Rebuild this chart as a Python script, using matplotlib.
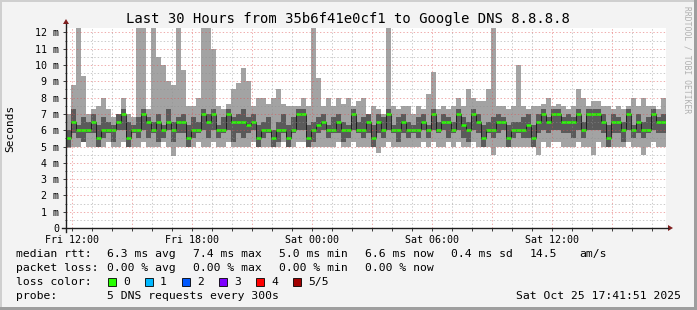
import matplotlib
matplotlib.use("Agg")
import matplotlib.pyplot as plt
from matplotlib.lines import Line2D
from matplotlib.patches import Rectangle, Polygon
import numpy as np

plt.rcParams['font.family'] = ['DejaVu Sans Mono']
plt.rcParams['lines.scale_dashes'] = False

W, H = 697, 310

# 5 pings per step, 15 minute bins over 30 hours (sorted: lo, q1, median, q3, hi), in ms
med = [5.5, 6.5, 6.0, 6.0, 6.0, 6.5, 5.5, 6.0, 6.0, 6.0, 6.5, 7.0, 5.5, 6.0, 6.0,
       7.0, 6.5, 6.0, 6.5, 6.0, 6.5, 6.0, 6.5, 6.5, 5.5, 6.0, 6.0, 7.0, 6.5, 7.0,
       6.0, 6.0, 7.0, 6.5, 6.5, 6.5, 6.3, 6.5, 5.5, 6.0, 6.0, 5.5, 6.0, 6.0, 5.5,
       6.0, 7.0, 7.0, 5.5, 6.0, 6.3, 6.5, 6.0, 6.0, 6.5, 6.0, 6.0, 7.0, 6.0, 6.0,
       6.5, 5.5, 6.5, 6.0, 7.0, 6.0, 6.0, 6.5, 6.0, 6.0, 6.0, 6.5, 6.0, 7.0, 6.0,
       6.5, 6.5, 6.0, 7.0, 6.3, 6.0, 7.0, 6.5, 5.5, 6.0, 6.0, 6.5, 6.5, 5.5, 6.0,
       6.0, 6.0, 6.3, 5.5, 6.5, 7.0, 6.5, 7.0, 7.0, 6.5, 6.5, 6.5, 7.0, 6.0, 7.0,
       7.0, 7.0, 6.5, 5.5, 6.5, 6.5, 6.0, 7.0, 6.0, 6.5, 6.0, 6.0, 7.0, 6.5, 6.5]

q1 = [5.0, 5.8, 5.5, 5.3, 5.8, 5.8, 5.0, 5.5, 5.8, 5.3, 6.0, 6.0, 5.0, 5.8, 5.5,
      6.0, 5.5, 5.8, 5.3, 5.5, 6.0, 5.3, 5.8, 5.8, 5.0, 5.5, 5.8, 6.0, 5.5, 6.0,
      5.5, 5.8, 6.0, 5.3, 5.8, 5.5, 5.8, 6.0, 5.0, 5.5, 5.8, 5.0, 5.3, 5.8, 5.0,
      5.8, 6.0, 6.0, 5.0, 5.3, 5.8, 6.0, 5.5, 5.8, 5.8, 5.3, 5.5, 6.0, 5.8, 5.5,
      5.8, 5.0, 5.8, 5.5, 6.0, 5.8, 5.3, 5.8, 5.5, 5.8, 5.5, 6.0, 5.5, 6.0, 5.8,
      6.0, 5.5, 5.8, 6.0, 5.5, 5.3, 6.0, 5.8, 5.0, 5.8, 5.5, 5.8, 6.0, 5.0, 5.5,
      5.8, 5.5, 5.5, 5.0, 5.8, 6.0, 5.8, 6.0, 6.0, 5.8, 5.8, 5.5, 6.0, 5.5, 6.0,
      6.0, 6.0, 5.8, 5.0, 5.8, 5.8, 5.3, 6.0, 5.5, 5.8, 5.5, 5.8, 6.0, 5.8, 5.8]

q3 = [6.0, 7.3, 6.3, 6.8, 6.5, 7.0, 6.3, 6.8, 6.5, 6.3, 7.0, 7.3, 6.5, 6.3, 6.8,
      7.3, 6.8, 6.5, 7.0, 6.3, 7.3, 6.5, 6.8, 7.0, 6.3, 6.8, 6.5, 7.3, 7.0, 7.3,
      6.3, 6.8, 7.3, 6.8, 7.0, 7.3, 6.8, 7.0, 6.3, 6.5, 6.8, 6.0, 6.5, 7.0, 6.3,
      6.8, 7.3, 7.3, 6.3, 6.5, 6.8, 7.0, 6.3, 6.8, 7.0, 6.5, 6.3, 7.3, 6.5, 6.8,
      7.0, 6.3, 7.0, 6.8, 7.3, 6.3, 6.8, 7.0, 6.5, 6.3, 6.8, 7.0, 6.3, 7.3, 6.5,
      7.0, 6.8, 6.5, 7.3, 6.8, 6.5, 7.3, 7.0, 6.3, 6.5, 6.8, 7.0, 6.8, 6.3, 6.5,
      6.5, 6.8, 7.0, 6.3, 7.0, 7.3, 6.8, 7.3, 7.3, 6.8, 7.0, 6.8, 7.3, 6.5, 7.3,
      7.3, 7.3, 7.0, 6.3, 7.0, 6.8, 6.5, 7.3, 6.3, 7.0, 6.5, 6.8, 7.3, 6.8, 7.0]

lo = [4.9, 5.0, 5.0, 5.3, 5.0, 5.0, 5.0, 5.0, 5.3, 5.0, 5.0, 5.3, 5.0, 5.0, 5.0,
      5.3, 5.0, 5.0, 5.0, 5.3, 5.0, 4.4, 5.0, 5.0, 5.0, 5.0, 5.3, 5.0, 5.0, 5.3,
      5.0, 5.0, 5.3, 5.0, 5.0, 5.0, 5.0, 5.3, 5.0, 5.0, 5.0, 5.0, 5.0, 5.3, 5.0,
      5.0, 5.3, 5.3, 5.0, 5.0, 5.0, 5.0, 5.0, 5.0, 5.3, 5.0, 5.0, 5.3, 5.0, 5.0,
      5.0, 5.0, 4.6, 5.0, 5.3, 5.0, 5.0, 5.0, 5.0, 5.0, 5.0, 5.3, 5.0, 5.3, 5.0,
      5.0, 5.3, 5.0, 5.3, 5.0, 5.0, 5.3, 5.0, 5.0, 5.0, 4.5, 5.0, 5.0, 5.0, 5.0,
      5.0, 5.0, 5.0, 5.0, 4.5, 5.3, 5.0, 5.3, 5.3, 5.0, 5.0, 5.0, 5.3, 5.0, 5.0,
      4.5, 5.3, 5.0, 5.0, 5.0, 5.0, 5.0, 5.3, 5.0, 5.0, 4.5, 5.0, 5.3, 5.0, 5.0]

hi = [7.0, 8.8, 12.5, 9.3, 7.0, 7.3, 7.5, 8.0, 7.3, 6.8, 7.0, 8.0, 7.0, 6.8, 12.5,
      12.5, 7.3, 12.5, 10.5, 10.0, 9.0, 8.8, 12.5, 9.7, 7.5, 7.5, 8.0, 12.5, 12.5, 11.0,
      7.5, 7.3, 7.6, 8.5, 8.9, 9.8, 9.0, 7.5, 8.0, 8.0, 7.6, 8.0, 8.5, 7.6, 7.5,
      7.5, 7.5, 8.0, 7.5, 12.5, 9.2, 7.5, 8.0, 7.5, 8.0, 7.6, 8.0, 7.5, 7.8, 8.0,
      7.0, 7.5, 7.3, 7.0, 12.5, 7.5, 7.3, 7.5, 7.5, 7.0, 7.5, 7.3, 8.2, 9.6, 7.3,
      7.5, 7.3, 7.5, 8.0, 7.5, 8.5, 8.0, 7.8, 7.8, 8.5, 12.5, 7.5, 7.5, 7.3, 7.5,
      10.0, 7.5, 7.3, 7.5, 7.5, 7.6, 8.0, 7.5, 7.6, 7.5, 7.3, 7.5, 8.5, 8.0, 7.5,
      7.8, 7.8, 7.5, 7.5, 7.3, 7.5, 7.3, 7.5, 8.0, 7.5, 8.0, 7.5, 7.5, 7.3, 8.0]

x_labels = ["Fri 12:00", "Fri 18:00", "Sat 00:00", "Sat 06:00", "Sat 12:00"]
y_labels = ["0", "1 m", "2 m", "3 m", "4 m", "5 m", "6 m", "7 m", "8 m",
            "9 m", "10 m", "11 m", "12 m"]

loss_labels = ["0", "1", "2", "3", "4", "5/5"]
loss_colors = ["#26ff00", "#00b8ff", "#0059ff", "#7e00ff", "#ff0000", "#a10000"]

title = "Last 30 Hours from 35b6f41e0cf1 to Google DNS 8.8.8.8"


def fx(x):
    return x / W


def fy(y):
    return 1 - y / H


fig = plt.figure(figsize=(W / 100, H / 100), dpi=100)
fig.patch.set_facecolor('#f3f3f3')

# 3d-ish border
fig.patches.append(Rectangle((0, fy(2)), 1, 2 / H, transform=fig.transFigure, color='#cfcfcf', lw=0))
fig.patches.append(Rectangle((0, 0), 2 / W, 1, transform=fig.transFigure, color='#cfcfcf', lw=0))
fig.patches.append(Rectangle((0, 0), 1, 3 / H, transform=fig.transFigure, color='#9e9e9e', lw=0))
fig.patches.append(Rectangle((fx(W - 3), 0), 3 / W, 1, transform=fig.transFigure, color='#9e9e9e', lw=0))

ax = fig.add_axes([fx(66), fy(228), 600 / W, 200 / H])
ax.set_facecolor('white')
ax.set_xlim(0, 30)
ax.set_ylim(0, 12.27)
for s in ax.spines.values():
    s.set_visible(False)

edges = np.arange(len(med) + 1) * 0.25


def stepv(v):
    return np.append(v, v[-1])


ax.fill_between(edges, stepv(lo), stepv(hi), step='post', color='#a3a3a3', lw=0, zorder=2)
ax.fill_between(edges, stepv(q1), stepv(q3), step='post', color='#5a5a5a', lw=0, zorder=3)
ax.step(edges, stepv(med), where='post', color='#151515', lw=0.6, zorder=4)
ax.hlines(med, edges[:-1], edges[1:], color='#26ff00', lw=1.8, zorder=5)

# grid (first tick Fri 12:00 is 18 min after start)
t0 = 0.303
for k in range(30):
    xv = t0 + k
    if xv > 30:
        break
    if k % 3 == 0:
        ax.axvline(xv, color=(0.87, 0.31, 0.31, 0.55), lw=0.6, ls=(0, (1, 1.5)), zorder=6)
    else:
        ax.axvline(xv, color=(0.56, 0.56, 0.56, 0.55), lw=0.6, ls=(0, (1, 1.5)), zorder=6)
for k in range(1, 25):
    yv = k * 0.5
    if k % 2 == 0:
        ax.axhline(yv, color=(0.87, 0.31, 0.31, 0.55), lw=0.6, ls=(0, (1, 1.5)), zorder=6)
    else:
        ax.axhline(yv, color=(0.56, 0.56, 0.56, 0.55), lw=0.6, ls=(0, (1, 1.5)), zorder=6)

ax.set_xticks([t0 + 6 * i for i in range(len(x_labels))])
ax.set_xticklabels(x_labels)
ax.set_xticks([t0 + k for k in range(30)], minor=True)
ax.set_yticks(range(len(y_labels)))
ax.set_yticklabels(y_labels)
ax.set_yticks([k * 0.5 for k in range(25)], minor=True)
ax.tick_params(which='both', length=2, width=0.6, color='#1f1f1f', labelsize=7.2, pad=3)
ax.tick_params(axis='y', which='minor', length=1)
ax.tick_params(axis='x', which='minor', length=2)
fig.text(fx(10), fy(128), "Seconds", rotation=90, ha='center', va='center', fontsize=8)

# axes with arrows
axis_col = '#1f1f1f'
arrow_col = '#801f1f'
fig.add_artist(Line2D([fx(62), fx(668)], [fy(228), fy(228)], color=axis_col, lw=1.0))
fig.add_artist(Line2D([fx(66), fx(66)], [fy(232), fy(24)], color=axis_col, lw=1.0))
fig.add_artist(Polygon([[fx(668), fy(225)], [fx(673), fy(228)], [fx(668), fy(231)]],
                       closed=True, transform=fig.transFigure, color=arrow_col, lw=0))
fig.add_artist(Polygon([[fx(63), fy(24)], [fx(66), fy(19)], [fx(69), fy(24)]],
                       closed=True, transform=fig.transFigure, color=arrow_col, lw=0))

fig.text(fx(348), fy(19), title, ha='center', va='center', fontsize=10)
fig.text(fx(687), fy(6), "RRDTOOL / TOBI OETIKER", rotation=-90, ha='center', va='top',
         fontsize=5.8, color='#b0b0b0')

fs = 8.2
cols = [16, 107, 193, 279, 365, 451, 530, 579]
row1 = ["median rtt:", "6.3 ms avg", "7.4 ms max", "5.0 ms min", "6.6 ms now",
        "0.4 ms sd", "14.5", "am/s"]
row2 = ["packet loss:", "0.00 % avg", "0.00 % max", "0.00 % min", "0.00 % now"]
for txt, xp in zip(row1, cols):
    fig.text(fx(xp), fy(254), txt, ha='left', va='center', fontsize=fs)
for txt, xp in zip(row2, cols):
    fig.text(fx(xp), fy(268), txt, ha='left', va='center', fontsize=fs)

fig.text(fx(16), fy(282), "loss color:", ha='left', va='center', fontsize=fs)
box_x = [108, 145, 182, 219, 256, 293]
for bx, lab, c in zip(box_x, loss_labels, loss_colors):
    fig.patches.append(Rectangle((fx(bx), fy(286)), 8 / W, 8 / H, transform=fig.transFigure,
                                 facecolor=c, edgecolor='black', lw=0.6))
    fig.text(fx(bx + 15), fy(282), lab, ha='left', va='center', fontsize=fs)

fig.text(fx(16), fy(296), "probe:", ha='left', va='center', fontsize=fs)
fig.text(fx(107), fy(296), "5 DNS requests every 300s", ha='left', va='center', fontsize=fs)
fig.text(fx(681), fy(296), "Sat Oct 25 17:41:51 2025", ha='right', va='center', fontsize=fs)

fig.savefig("out.png", dpi=100, facecolor=fig.get_facecolor())
